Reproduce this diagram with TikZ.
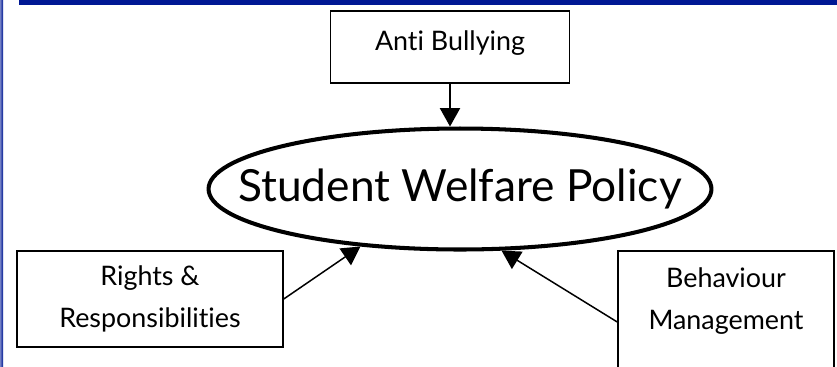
\documentclass[tikz,border=0pt]{standalone}
\usepackage{fontspec}
\setmainfont{Lato}[Ligatures=NoCommon]
\usetikzlibrary{shapes.geometric,arrows.meta}
\definecolor{bandblue}{RGB}{0,24,148}

\begin{document}
\begin{tikzpicture}[x=0.02cm, y=-0.02cm,
    topic/.style={draw, line width=0.85pt, align=center, inner sep=0pt,
        font=\fontsize{15.3}{24}\selectfont},
    feeds/.style={-{Triangle[length=10.5pt, width=11.5pt]}, line width=0.85pt}]
    \useasboundingbox (0,0) rectangle (837,366);
    \clip (0,0) rectangle (837,366);

    % Page frame: bar along the top, rule down the left
    \fill[bandblue] (19,0) rectangle (837,5);
    \shade[left color=bandblue!55, right color=bandblue] (0,0) rectangle (3,366);

    % Central policy
    \node[draw, ellipse, line width=2.3pt, minimum width=10.06cm, minimum height=2.42cm,
          inner xsep=-2cm, inner ysep=-0.6cm, font=\fontsize{25.2}{28}\selectfont]
        (policy) at (460,189) {Student Welfare Policy};

    % Policies that feed into it
    \node[topic, minimum width=4.78cm, minimum height=1.44cm, text depth=0.24cm]
        (anti) at (450,47) {Anti Bullying};
    \node[topic, minimum width=5.32cm, minimum height=1.92cm]
        (rights) at (150,299) {Rights \&\\Responsibilities};
    \node[topic, minimum width=4.32cm, minimum height=2.84cm, text depth=0.93cm]
        (behave) at (726,322) {Behaviour\\Management};

    % Arrows
    \draw[feeds] (anti.south) -- (anti.south |- policy.north);
    \draw[feeds] (rights.east) -- (policy.210);
    \draw[feeds] (behave.west) -- (policy.304);
\end{tikzpicture}
\end{document}
